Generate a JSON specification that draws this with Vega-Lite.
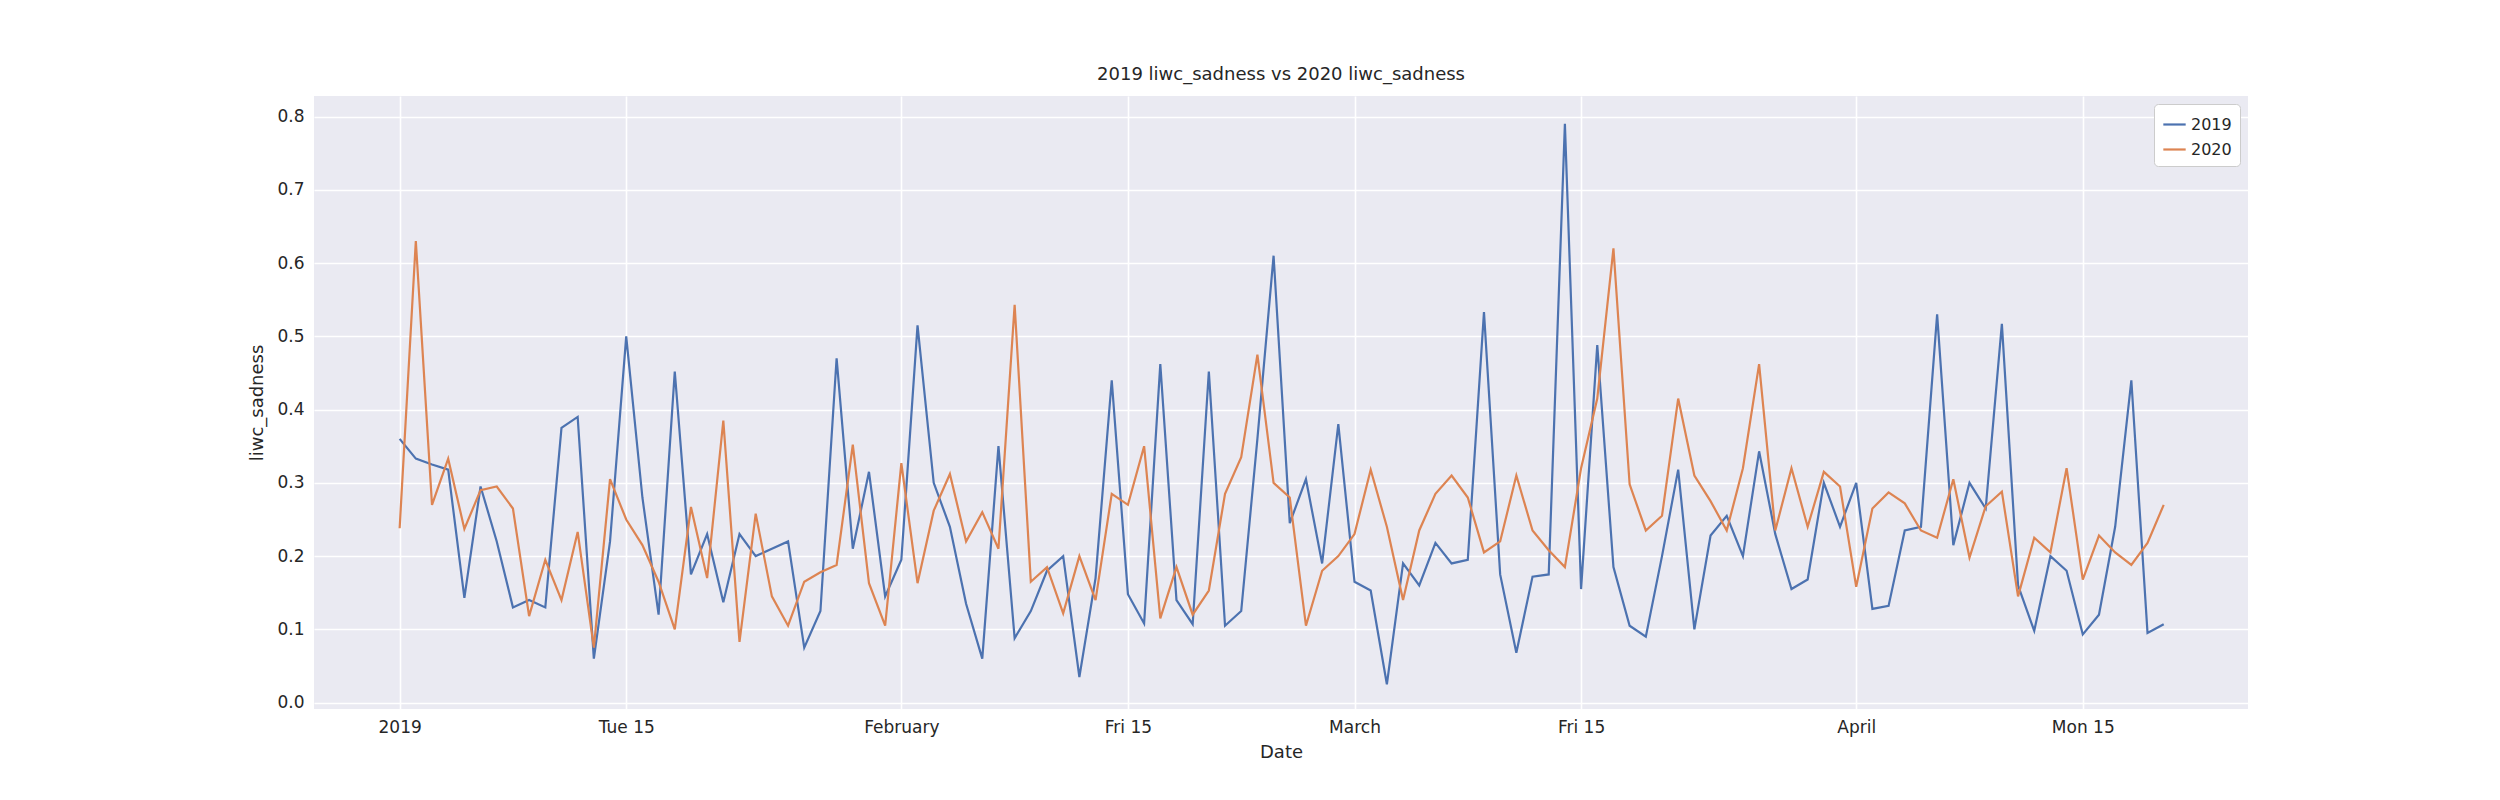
{
  "$schema": "https://vega.github.io/schema/vega-lite/v6.json",
  "width": 1934,
  "height": 613,
  "autosize": {"type": "none"},
  "padding": {"left": 314, "top": 96, "right": 252, "bottom": 91},
  "background": "white",
  "title": {"text": "2019 liwc_sadness vs 2020 liwc_sadness", "fontSize": 18, "fontWeight": "normal", "font": "DejaVu Sans", "color": "#262626", "offset": 12},
  "config": {
    "view": {"fill": "#eaeaf2", "stroke": null},
    "font": "DejaVu Sans",
    "axis": {"domain": false, "ticks": false, "gridColor": "white", "gridWidth": 1.6, "labelFontSize": 17, "labelColor": "#262626", "titleFontSize": 18, "titleFontWeight": "normal", "titleColor": "#262626", "labelPadding": 10}
  },
  "data": {
    "values": [
      {"date": "2019-01-01", "y2019": 0.36, "y2020": 0.238},
      {"date": "2019-01-02", "y2019": 0.333, "y2020": 0.63},
      {"date": "2019-01-03", "y2019": 0.325, "y2020": 0.27},
      {"date": "2019-01-04", "y2019": 0.318, "y2020": 0.333},
      {"date": "2019-01-05", "y2019": 0.143, "y2020": 0.237},
      {"date": "2019-01-06", "y2019": 0.295, "y2020": 0.29},
      {"date": "2019-01-07", "y2019": 0.22, "y2020": 0.295},
      {"date": "2019-01-08", "y2019": 0.13, "y2020": 0.265},
      {"date": "2019-01-09", "y2019": 0.14, "y2020": 0.118},
      {"date": "2019-01-10", "y2019": 0.13, "y2020": 0.195},
      {"date": "2019-01-11", "y2019": 0.375, "y2020": 0.14},
      {"date": "2019-01-12", "y2019": 0.39, "y2020": 0.233},
      {"date": "2019-01-13", "y2019": 0.06, "y2020": 0.075},
      {"date": "2019-01-14", "y2019": 0.22, "y2020": 0.305},
      {"date": "2019-01-15", "y2019": 0.5, "y2020": 0.25},
      {"date": "2019-01-16", "y2019": 0.28, "y2020": 0.215},
      {"date": "2019-01-17", "y2019": 0.12, "y2020": 0.165},
      {"date": "2019-01-18", "y2019": 0.452, "y2020": 0.1},
      {"date": "2019-01-19", "y2019": 0.175, "y2020": 0.267},
      {"date": "2019-01-20", "y2019": 0.23, "y2020": 0.17},
      {"date": "2019-01-21", "y2019": 0.137, "y2020": 0.385},
      {"date": "2019-01-22", "y2019": 0.23, "y2020": 0.083},
      {"date": "2019-01-23", "y2019": 0.2, "y2020": 0.258},
      {"date": "2019-01-24", "y2019": 0.21, "y2020": 0.145},
      {"date": "2019-01-25", "y2019": 0.22, "y2020": 0.105},
      {"date": "2019-01-26", "y2019": 0.075, "y2020": 0.165},
      {"date": "2019-01-27", "y2019": 0.125, "y2020": 0.178},
      {"date": "2019-01-28", "y2019": 0.47, "y2020": 0.188},
      {"date": "2019-01-29", "y2019": 0.21, "y2020": 0.352},
      {"date": "2019-01-30", "y2019": 0.315, "y2020": 0.163},
      {"date": "2019-01-31", "y2019": 0.145, "y2020": 0.105},
      {"date": "2019-02-01", "y2019": 0.195, "y2020": 0.327},
      {"date": "2019-02-02", "y2019": 0.515, "y2020": 0.163},
      {"date": "2019-02-03", "y2019": 0.3, "y2020": 0.262},
      {"date": "2019-02-04", "y2019": 0.24, "y2020": 0.312},
      {"date": "2019-02-05", "y2019": 0.135, "y2020": 0.22},
      {"date": "2019-02-06", "y2019": 0.06, "y2020": 0.26},
      {"date": "2019-02-07", "y2019": 0.35, "y2020": 0.21},
      {"date": "2019-02-08", "y2019": 0.088, "y2020": 0.543},
      {"date": "2019-02-09", "y2019": 0.125, "y2020": 0.165},
      {"date": "2019-02-10", "y2019": 0.18, "y2020": 0.185},
      {"date": "2019-02-11", "y2019": 0.2, "y2020": 0.122},
      {"date": "2019-02-12", "y2019": 0.035, "y2020": 0.2},
      {"date": "2019-02-13", "y2019": 0.17, "y2020": 0.14},
      {"date": "2019-02-14", "y2019": 0.44, "y2020": 0.285},
      {"date": "2019-02-15", "y2019": 0.148, "y2020": 0.27},
      {"date": "2019-02-16", "y2019": 0.108, "y2020": 0.35},
      {"date": "2019-02-17", "y2019": 0.462, "y2020": 0.115},
      {"date": "2019-02-18", "y2019": 0.14, "y2020": 0.185},
      {"date": "2019-02-19", "y2019": 0.107, "y2020": 0.12},
      {"date": "2019-02-20", "y2019": 0.452, "y2020": 0.153},
      {"date": "2019-02-21", "y2019": 0.105, "y2020": 0.285},
      {"date": "2019-02-22", "y2019": 0.125, "y2020": 0.335},
      {"date": "2019-02-23", "y2019": 0.36, "y2020": 0.475},
      {"date": "2019-02-24", "y2019": 0.61, "y2020": 0.3},
      {"date": "2019-02-25", "y2019": 0.245, "y2020": 0.28},
      {"date": "2019-02-26", "y2019": 0.305, "y2020": 0.105},
      {"date": "2019-02-27", "y2019": 0.19, "y2020": 0.18},
      {"date": "2019-02-28", "y2019": 0.38, "y2020": 0.2},
      {"date": "2019-03-01", "y2019": 0.165, "y2020": 0.23},
      {"date": "2019-03-02", "y2019": 0.153, "y2020": 0.318},
      {"date": "2019-03-03", "y2019": 0.025, "y2020": 0.24},
      {"date": "2019-03-04", "y2019": 0.19, "y2020": 0.14},
      {"date": "2019-03-05", "y2019": 0.16, "y2020": 0.235},
      {"date": "2019-03-06", "y2019": 0.218, "y2020": 0.285},
      {"date": "2019-03-07", "y2019": 0.19, "y2020": 0.31},
      {"date": "2019-03-08", "y2019": 0.195, "y2020": 0.28},
      {"date": "2019-03-09", "y2019": 0.533, "y2020": 0.205},
      {"date": "2019-03-10", "y2019": 0.175, "y2020": 0.22},
      {"date": "2019-03-11", "y2019": 0.068, "y2020": 0.31},
      {"date": "2019-03-12", "y2019": 0.172, "y2020": 0.235},
      {"date": "2019-03-13", "y2019": 0.175, "y2020": 0.208},
      {"date": "2019-03-14", "y2019": 0.79, "y2020": 0.185},
      {"date": "2019-03-15", "y2019": 0.155, "y2020": 0.32},
      {"date": "2019-03-16", "y2019": 0.488, "y2020": 0.415},
      {"date": "2019-03-17", "y2019": 0.185, "y2020": 0.62},
      {"date": "2019-03-18", "y2019": 0.105, "y2020": 0.298},
      {"date": "2019-03-19", "y2019": 0.09, "y2020": 0.235},
      {"date": "2019-03-20", "y2019": 0.2, "y2020": 0.255},
      {"date": "2019-03-21", "y2019": 0.318, "y2020": 0.415},
      {"date": "2019-03-22", "y2019": 0.1, "y2020": 0.31},
      {"date": "2019-03-23", "y2019": 0.228, "y2020": 0.275},
      {"date": "2019-03-24", "y2019": 0.255, "y2020": 0.235},
      {"date": "2019-03-25", "y2019": 0.2, "y2020": 0.32},
      {"date": "2019-03-26", "y2019": 0.343, "y2020": 0.462},
      {"date": "2019-03-27", "y2019": 0.23, "y2020": 0.235},
      {"date": "2019-03-28", "y2019": 0.155, "y2020": 0.32},
      {"date": "2019-03-29", "y2019": 0.168, "y2020": 0.24},
      {"date": "2019-03-30", "y2019": 0.3, "y2020": 0.315},
      {"date": "2019-03-31", "y2019": 0.24, "y2020": 0.295},
      {"date": "2019-04-01", "y2019": 0.3, "y2020": 0.158},
      {"date": "2019-04-02", "y2019": 0.128, "y2020": 0.265},
      {"date": "2019-04-03", "y2019": 0.132, "y2020": 0.287},
      {"date": "2019-04-04", "y2019": 0.235, "y2020": 0.272},
      {"date": "2019-04-05", "y2019": 0.24, "y2020": 0.235},
      {"date": "2019-04-06", "y2019": 0.53, "y2020": 0.225},
      {"date": "2019-04-07", "y2019": 0.215, "y2020": 0.305},
      {"date": "2019-04-08", "y2019": 0.3, "y2020": 0.198},
      {"date": "2019-04-09", "y2019": 0.265, "y2020": 0.268},
      {"date": "2019-04-10", "y2019": 0.517, "y2020": 0.288},
      {"date": "2019-04-11", "y2019": 0.16, "y2020": 0.145},
      {"date": "2019-04-12", "y2019": 0.098, "y2020": 0.225},
      {"date": "2019-04-13", "y2019": 0.2, "y2020": 0.205},
      {"date": "2019-04-14", "y2019": 0.18, "y2020": 0.32},
      {"date": "2019-04-15", "y2019": 0.093, "y2020": 0.168},
      {"date": "2019-04-16", "y2019": 0.12, "y2020": 0.228},
      {"date": "2019-04-17", "y2019": 0.24, "y2020": 0.205},
      {"date": "2019-04-18", "y2019": 0.44, "y2020": 0.188},
      {"date": "2019-04-19", "y2019": 0.095, "y2020": 0.218},
      {"date": "2019-04-20", "y2019": 0.107, "y2020": 0.27}
    ]
  },
  "transform": [
    {"fold": ["y2019", "y2020"], "as": ["series", "liwc_sadness"]},
    {"calculate": "slice(datum.series, 1)", "as": "year"}
  ],
  "mark": {"type": "line", "strokeWidth": 2.2, "clip": true},
  "encoding": {
    "x": {
      "field": "date",
      "type": "temporal",
      "title": "Date",
      "scale": {"type": "utc", "domain": [{"year": 2018, "month": 12, "date": 26, "hours": 17, "utc": true}, {"year": 2019, "month": 4, "date": 25, "hours": 5, "utc": true}]},
      "axis": {
        "format": "%b-%d",
        "formatType": "utc",
        "values": [
          {"year": 2019, "month": 1, "date": 1, "utc": true},
          {"year": 2019, "month": 1, "date": 15, "utc": true},
          {"year": 2019, "month": 2, "date": 1, "utc": true},
          {"year": 2019, "month": 2, "date": 15, "utc": true},
          {"year": 2019, "month": 3, "date": 1, "utc": true},
          {"year": 2019, "month": 3, "date": 15, "utc": true},
          {"year": 2019, "month": 4, "date": 1, "utc": true},
          {"year": 2019, "month": 4, "date": 15, "utc": true}
        ],
        "titlePadding": 8
      }
    },
    "y": {
      "field": "liwc_sadness",
      "type": "quantitative",
      "title": "liwc_sadness",
      "scale": {"domain": [-0.0087, 0.828], "nice": false, "zero": false},
      "axis": {"values": [0, 0.1, 0.2, 0.3, 0.4, 0.5, 0.6, 0.7, 0.8], "format": ".1f", "titlePadding": 10}
    },
    "color": {
      "field": "year",
      "type": "nominal",
      "title": null,
      "scale": {"domain": ["2019", "2020"], "range": ["#4c72b0", "#dd8452"]},
      "legend": {
        "orient": "top-right",
        "offset": 8,
        "symbolType": "stroke",
        "symbolSize": 500,
        "symbolStrokeWidth": 2.2,
        "labelFontSize": 16,
        "labelColor": "#262626",
        "fillColor": "white",
        "strokeColor": "#cccccc",
        "cornerRadius": 4,
        "padding": 8,
        "rowPadding": 4
      }
    }
  }
}
